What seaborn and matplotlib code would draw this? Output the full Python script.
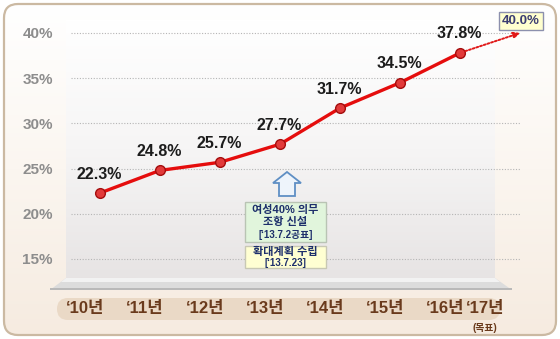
import numpy as np
import pandas as pd
import matplotlib
matplotlib.use("Agg")
import matplotlib.pyplot as plt
import matplotlib.transforms as mtransforms
from matplotlib.patches import FancyBboxPatch, Polygon, Rectangle
import seaborn as sns

# ---- data ----
years = ["‘10년", "‘11년", "‘12년", "‘13년", "‘14년", "‘15년", "‘16년", "‘17년"]
actual = [22.3, 24.8, 25.7, 27.7, 31.7, 34.5, 37.8]
target = 40.0
yticks = [15, 20, 25, 30, 35, 40]
note1 = ["여성40% 의무", "조항 신설", "[‘13.7.2공표]"]
note2 = ["확대계획 수립", "[‘13.7.23]"]

sns.set_theme(style="white")
FONT = ["Liberation Sans", "Noto Sans CJK KR", "DejaVu Sans"]
plt.rcParams["font.family"] = FONT

W, H = 560, 339
fig = plt.figure(figsize=(W / 100, H / 100), dpi=100)
fig.patch.set_facecolor("white")

# ---- background layer in pixel coordinates ----
bg = fig.add_axes([0, 0, 1, 1], zorder=-10)
bg.set_xlim(0, W)
bg.set_ylim(H, 0)
bg.axis("off")

frame = FancyBboxPatch((4, 4), W - 8, H - 8, boxstyle="round,pad=0,rounding_size=14",
                       facecolor="none", edgecolor="#cbb9a2", linewidth=1.6, zorder=5)
bg.add_patch(frame)
grad = np.linspace(0, 1, 256).reshape(-1, 1)
cream = matplotlib.colors.LinearSegmentedColormap.from_list("c", ["#ffffff", "#fbf6f0", "#f6ebe0"])
im = bg.imshow(grad, extent=(4, W - 4, H - 4, 4), cmap=cream, aspect="auto", zorder=0)
clip = FancyBboxPatch((4, 4), W - 8, H - 8, boxstyle="round,pad=0,rounding_size=14",
                      transform=bg.transData, facecolor="none", edgecolor="none")
bg.add_patch(clip)
im.set_clip_path(clip)

# grey panel
greys = matplotlib.colors.LinearSegmentedColormap.from_list("g", ["#ffffff", "#f6f5f5", "#e7e4e4"])
bg.imshow(grad, extent=(66, 495, 278, 20), cmap=greys, aspect="auto", zorder=1)
# shelf
bg.add_patch(Polygon([(66, 278), (495, 278), (512, 290), (50, 290)], closed=True,
                     facecolor="#dcdcdc", edgecolor="none", zorder=2))
bg.add_patch(Polygon([(66, 278), (495, 278), (500, 282), (61, 282)], closed=True,
                     facecolor="#f2f2f2", edgecolor="none", zorder=3))
bg.add_patch(Polygon([(50, 288), (512, 288), (512, 290), (50, 290)], closed=True,
                     facecolor="#b9b9b9", edgecolor="none", zorder=3))
# label bar
bg.add_patch(FancyBboxPatch((57, 298), 443, 22, boxstyle="round,pad=0,rounding_size=11",
                            facecolor="#ead9c6", edgecolor="none", zorder=2))

# ---- main axes ----
ax = fig.add_axes([71 / W, (H - 282) / H, 449 / W, 262 / H], zorder=1)
ax.patch.set_alpha(0)
ppu = 9.04
ax.set_xlim(-29 / 60, 7.0)
ax.set_ylim(40 - 249 / ppu, 40 + 13 / ppu)

for t in yticks:
    ax.axhline(t, color="#b5b5b5", linestyle=(0, (1, 1.5)), linewidth=0.8, zorder=1)

df = pd.DataFrame({"x": np.arange(len(actual)), "rate": actual})
sns.lineplot(data=df, x="x", y="rate", ax=ax, color="#e50d0d", linewidth=2.4,
             marker="o", markersize=7, markerfacecolor="#e23a3a",
             markeredgecolor="#a40d0d", markeredgewidth=1.0, zorder=3)

# dotted projection arrow
ax.annotate("", xy=(len(actual), target), xytext=(len(actual) - 1, actual[-1]),
            arrowprops=dict(arrowstyle="-|>", color="#e01818", linestyle=(0, (1, 1)),
                            linewidth=1.4, mutation_scale=9, shrinkA=4, shrinkB=0),
            annotation_clip=False, zorder=3)
ax.annotate(f"{target:.1f}%", xy=(len(actual), target), xytext=(1, 12),
            textcoords="offset pixels", ha="center", va="center",
            fontsize=9.5, fontweight="bold", color="#3b3d72", family=FONT,
            bbox=dict(boxstyle="square,pad=0.25", facecolor="#ffffcf", edgecolor="#8c90ad", linewidth=1),
            annotation_clip=False, zorder=4)

for i, v in enumerate(actual):
    ax.annotate(f"{v:.1f}%", xy=(i, v), xytext=(-1, 19), textcoords="offset pixels",
                ha="center", va="center", fontsize=11.5, fontweight="bold",
                color="#1c1c1c", family=FONT, zorder=4)

ax.set_yticks(yticks)
ax.set_yticklabels([f"{t}%" for t in yticks])
ax.tick_params(axis="y", length=0, pad=13, labelsize=11, labelcolor="#8d8d8d")
for lbl in ax.get_yticklabels():
    lbl.set_fontweight("bold")
ax.set_xticks([])
ax.set_xlabel("")
ax.set_ylabel("")
for s in ax.spines.values():
    s.set_visible(False)

# x category labels along the beige bar
def label_trans(shift_px):
    off = mtransforms.ScaledTranslation(shift_px / 100, 0, fig.dpi_scale_trans)
    return mtransforms.blended_transform_factory(ax.transData, fig.transFigure) + off

for i, lab in enumerate(years):
    shift = -15 if i < len(years) - 1 else -35
    ax.text(i, (H - 309) / H, lab, transform=label_trans(shift), ha="center", va="center",
            fontsize=12, fontweight="bold", color="#6a3a1c", family=FONT, clip_on=False)
ax.text(len(actual), (H - 328) / H, "(목표)", transform=label_trans(-35), ha="center", va="center",
        fontsize=7, fontweight="bold", color="#6a3a1c", family=FONT, clip_on=False)

# ---- policy note overlay (pixel coords) ----
ov = fig.add_axes([0, 0, 1, 1], zorder=2)
ov.set_xlim(0, W)
ov.set_ylim(H, 0)
ov.axis("off")
ax_x = 287
arrow_pts = [(ax_x, 172), (ax_x + 14, 183), (ax_x + 8, 183), (ax_x + 8, 196),
             (ax_x - 8, 196), (ax_x - 8, 183), (ax_x - 14, 183)]
ov.add_patch(Polygon(arrow_pts, closed=True, facecolor="#eef4fb", edgecolor="#5f8fc4", linewidth=1.3))
ov.add_patch(Rectangle((245, 202), 81, 40, facecolor="#e1f5dc", edgecolor="#b9c4b4", linewidth=1))
ov.add_patch(Rectangle((245, 246), 81, 22, facecolor="#ffffd2", edgecolor="#c8c8b4", linewidth=1))
for k, line in enumerate(note1):
    ov.text(285.5, 209.5 + k * 12.5, line, ha="center", va="center",
            fontsize=8 if k < 2 else 7, fontweight="bold", color="#1d2f6b", family=FONT)
for k, line in enumerate(note2):
    ov.text(285.5, 252 + k * 10.5, line, ha="center", va="center",
            fontsize=8 if k == 0 else 7, fontweight="bold", color="#1d2f6b", family=FONT)

fig.savefig("out.png", dpi=100)
